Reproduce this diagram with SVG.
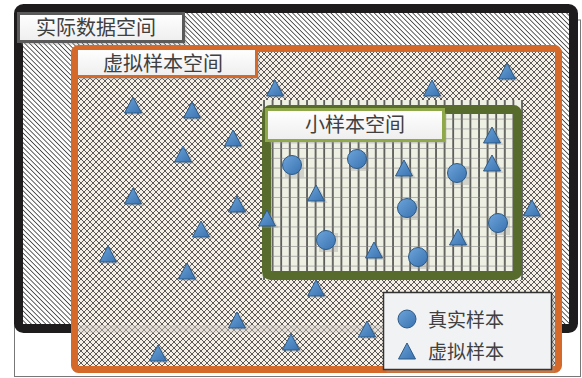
<svg xmlns="http://www.w3.org/2000/svg" width="582" height="378" viewBox="0 0 582 378">
<style>
.lbl{font-family:"Noto Sans CJK SC","Noto Sans CJK JP",sans-serif;font-size:20px;fill:#404040;text-anchor:middle}
.leg{font-family:"Noto Sans CJK SC","Noto Sans CJK JP",sans-serif;font-size:19px;fill:#404040}
.tri{fill:url(#blue);stroke:#2d5a86;stroke-width:1}
.circ{fill:url(#blue);stroke:#2d5a86;stroke-width:1}
.sh{fill:#9a9a9a;opacity:0.35}
</style>
<defs>
<pattern id="hatch" width="3.4" height="3.4" patternUnits="userSpaceOnUse" patternTransform="rotate(-45)">
<rect width="3.4" height="3.4" fill="#ffffff"/>
<line x1="0" y1="0" x2="0" y2="3.4" stroke="#2a2a2a" stroke-width="1.5"/>
</pattern>
<pattern id="diam" width="6" height="6" patternUnits="userSpaceOnUse">
<rect width="6" height="6" fill="#f6efe6"/>
<path d="M0,0 L6,6 M6,0 L0,6" stroke="#333" stroke-width="0.8" fill="none"/>
</pattern>
<pattern id="grid" width="8.6" height="9.8" patternUnits="userSpaceOnUse" x="263" y="100">
<rect width="8.6" height="9.8" fill="#eef0e4"/>
<line x1="1" y1="0" x2="1" y2="9.8" stroke="#111" stroke-width="1.2"/>
<line x1="0" y1="9.3" x2="8.6" y2="9.3" stroke="#888" stroke-width="0.6"/>
</pattern>
<linearGradient id="blue" x1="0" y1="0" x2="1" y2="1">
<stop offset="0" stop-color="#6ea4da"/>
<stop offset="1" stop-color="#3872b0"/>
</linearGradient>
<linearGradient id="lblfill" x1="0" y1="0" x2="0" y2="1">
<stop offset="0" stop-color="#ffffff"/>
<stop offset="1" stop-color="#eeeeee"/>
</linearGradient>
<path id="T" d="M0,-8 L8.5,8 L-8.5,8 Z"/>
</defs>

<g id="actual-space">
<rect x="14.5" y="20" width="566" height="356.5" fill="#ffffff" stroke="#777" stroke-width="1"/>
<rect x="18.5" y="8.5" width="555" height="320" rx="5" fill="url(#hatch)" stroke="#1e1c1c" stroke-width="9"/>
</g>

<g id="virtual-space">
<rect x="74.5" y="48.5" width="484" height="321" rx="4" fill="url(#diam)" stroke="#d4692a" stroke-width="7"/>
<rect x="78" y="325" width="477" height="8" fill="#d0ccc6" opacity="0.45"/>
</g>

<g id="small-space">
<rect x="262" y="100" width="261" height="180" fill="url(#grid)"/>
<rect x="266.5" y="109.5" width="251" height="166" rx="4" fill="none" stroke="#566b2c" stroke-width="9"/>
</g>

<g id="label-actual">
<rect x="21.5" y="16.5" width="165" height="28" fill="#999" opacity="0.4"/>
<rect x="18.5" y="13.5" width="165" height="28" fill="url(#lblfill)" stroke="#5a5a5a" stroke-width="3"/>
<text class="lbl" x="96" y="35">实际数据空间</text>
</g>

<g id="label-virtual">
<rect x="79.5" y="51.5" width="180" height="28" fill="#999" opacity="0.4"/>
<rect x="76.5" y="48.5" width="180" height="28" fill="url(#lblfill)" stroke="#d4692a" stroke-width="3"/>
<text class="lbl" x="163" y="71">虚拟样本空间</text>
</g>

<g id="label-small">
<rect x="269.5" y="112.5" width="177" height="31" fill="#999" opacity="0.4"/>
<rect x="266.5" y="109.5" width="177" height="31" fill="url(#lblfill)" stroke="#8fa94a" stroke-width="3"/>
<text class="lbl" x="355" y="132">小样本空间</text>
</g>

<g id="real-samples">
<g id="r1"><rect class="sh" x="285" y="158" width="19" height="19"/><circle class="circ" cx="292" cy="165" r="9.5"/></g>
<g id="r2"><rect class="sh" x="350" y="152" width="19" height="19"/><circle class="circ" cx="357" cy="159" r="9.5"/></g>
<g id="r3"><rect class="sh" x="450" y="166" width="19" height="19"/><circle class="circ" cx="457" cy="173" r="9.5"/></g>
<g id="r4"><rect class="sh" x="400" y="201" width="19" height="19"/><circle class="circ" cx="407" cy="208" r="9.5"/></g>
<g id="r5"><rect class="sh" x="491" y="216" width="19" height="19"/><circle class="circ" cx="498" cy="223" r="9.5"/></g>
<g id="r6"><rect class="sh" x="319" y="233" width="19" height="19"/><circle class="circ" cx="326" cy="240" r="9.5"/></g>
<g id="r7"><rect class="sh" x="411" y="250" width="19" height="19"/><circle class="circ" cx="418" cy="257" r="9.5"/></g>
</g>

<g id="virtual-samples">
<g id="v1"><use href="#T" class="sh" x="136" y="107"/><use href="#T" class="tri" x="133" y="105"/></g>
<g id="v2"><use href="#T" class="sh" x="195" y="112"/><use href="#T" class="tri" x="192" y="110"/></g>
<g id="v3"><use href="#T" class="sh" x="236" y="140"/><use href="#T" class="tri" x="233" y="138"/></g>
<g id="v4"><use href="#T" class="sh" x="186" y="156"/><use href="#T" class="tri" x="183" y="154"/></g>
<g id="v5"><use href="#T" class="sh" x="136" y="198"/><use href="#T" class="tri" x="133" y="196"/></g>
<g id="v6"><use href="#T" class="sh" x="240" y="206"/><use href="#T" class="tri" x="237" y="204"/></g>
<g id="v7"><use href="#T" class="sh" x="204" y="231"/><use href="#T" class="tri" x="201" y="229"/></g>
<g id="v8"><use href="#T" class="sh" x="111" y="256"/><use href="#T" class="tri" x="108" y="254"/></g>
<g id="v9"><use href="#T" class="sh" x="190" y="273"/><use href="#T" class="tri" x="187" y="271"/></g>
<g id="v10"><use href="#T" class="sh" x="278" y="90"/><use href="#T" class="tri" x="275" y="88"/></g>
<g id="v11"><use href="#T" class="sh" x="435" y="90"/><use href="#T" class="tri" x="432" y="88"/></g>
<g id="v12"><use href="#T" class="sh" x="510" y="73"/><use href="#T" class="tri" x="507" y="71"/></g>
<g id="v13"><use href="#T" class="sh" x="270" y="220"/><use href="#T" class="tri" x="267" y="218"/></g>
<g id="v14"><use href="#T" class="sh" x="535" y="210"/><use href="#T" class="tri" x="532" y="208"/></g>
<g id="v15"><use href="#T" class="sh" x="319" y="290"/><use href="#T" class="tri" x="316" y="288"/></g>
<g id="v16"><use href="#T" class="sh" x="240" y="322"/><use href="#T" class="tri" x="237" y="320"/></g>
<g id="v17"><use href="#T" class="sh" x="161" y="355"/><use href="#T" class="tri" x="158" y="353"/></g>
<g id="v18"><use href="#T" class="sh" x="294" y="344"/><use href="#T" class="tri" x="291" y="342"/></g>
<g id="v19"><use href="#T" class="sh" x="370" y="331"/><use href="#T" class="tri" x="367" y="329"/></g>
<g id="v20"><use href="#T" class="sh" x="495" y="137"/><use href="#T" class="tri" x="492" y="135"/></g>
<g id="v21"><use href="#T" class="sh" x="495" y="165"/><use href="#T" class="tri" x="492" y="163"/></g>
<g id="v22"><use href="#T" class="sh" x="407" y="170"/><use href="#T" class="tri" x="404" y="168"/></g>
<g id="v23"><use href="#T" class="sh" x="319" y="195"/><use href="#T" class="tri" x="316" y="193"/></g>
<g id="v24"><use href="#T" class="sh" x="461" y="239"/><use href="#T" class="tri" x="458" y="237"/></g>
<g id="v25"><use href="#T" class="sh" x="377" y="252"/><use href="#T" class="tri" x="374" y="250"/></g>
</g>

<g id="legend">
<rect x="386.5" y="295.5" width="168" height="77" fill="#999" opacity="0.4"/>
<rect x="383.5" y="292.5" width="168" height="77" fill="#f1f2f4" stroke="#333" stroke-width="1.5"/>
<circle class="circ" cx="407" cy="319" r="9"/>
<use href="#T" class="tri" x="407" y="351"/>
<text class="leg" x="428" y="327">真实样本</text>
<text class="leg" x="428" y="359">虚拟样本</text>
</g>

<g id="connectors"/>
</svg>
